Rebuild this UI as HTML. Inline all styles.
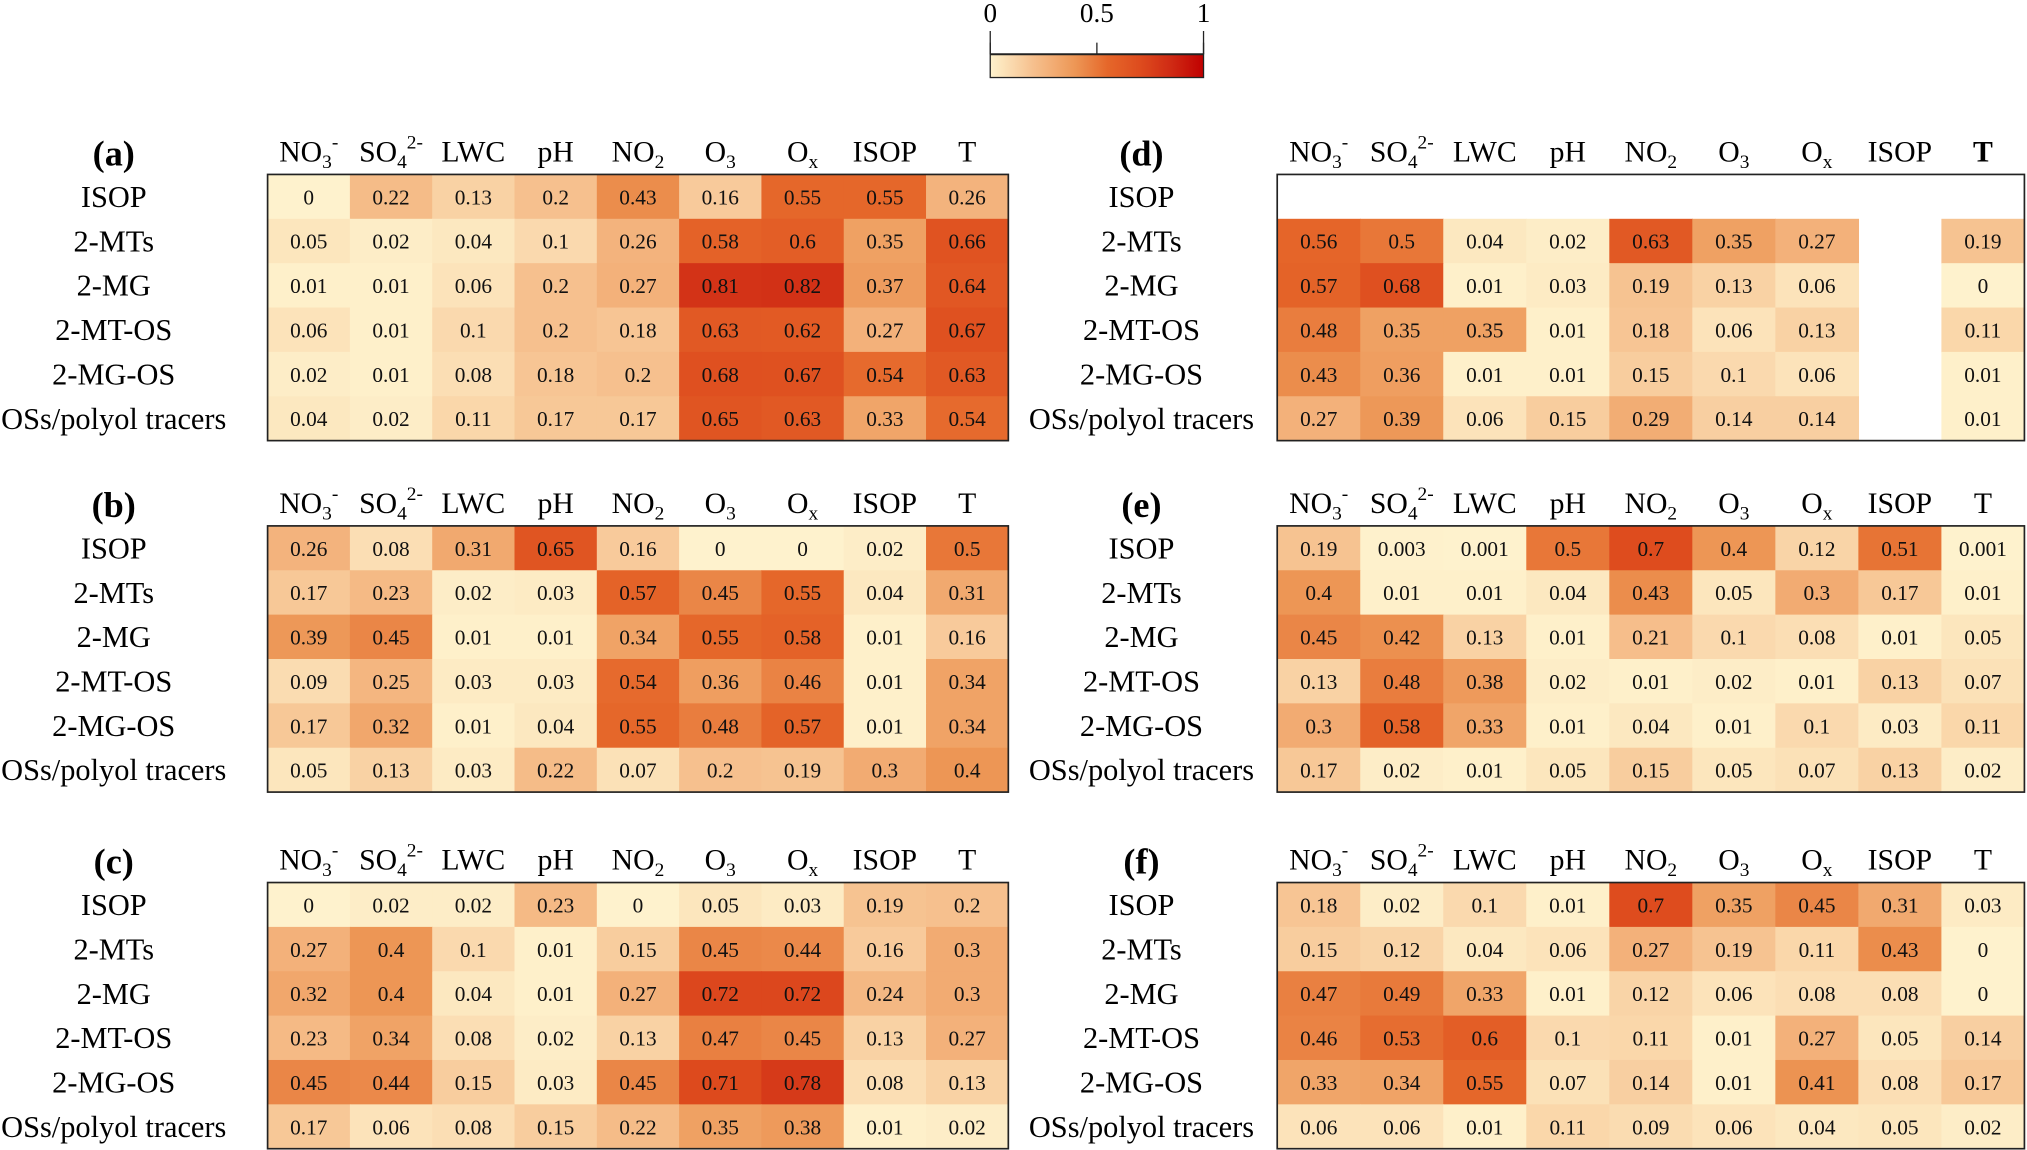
<!DOCTYPE html>
<html><head><meta charset="utf-8">
<style>
html,body{margin:0;padding:0;background:#fff;}
svg{display:block;font-family:"Liberation Serif",serif;}
</style></head>
<body>
<svg id="chart" width="2027" height="1150" viewBox="0 0 1568 890" preserveAspectRatio="none" xmlns="http://www.w3.org/2000/svg"></svg>
<script>
const columns = ["NO3-","SO42-","LWC","pH","NO2","O3","Ox","ISOP","T"];
const rowsLabels = ["ISOP","2-MTs","2-MG","2-MT-OS","2-MG-OS","OSs/polyol tracers"];
const colorTicks = [0, 0.5, 1];
const panelA = [
[0,0.22,0.13,0.2,0.43,0.16,0.55,0.55,0.26],
[0.05,0.02,0.04,0.1,0.26,0.58,0.6,0.35,0.66],
[0.01,0.01,0.06,0.2,0.27,0.81,0.82,0.37,0.64],
[0.06,0.01,0.1,0.2,0.18,0.63,0.62,0.27,0.67],
[0.02,0.01,0.08,0.18,0.2,0.68,0.67,0.54,0.63],
[0.04,0.02,0.11,0.17,0.17,0.65,0.63,0.33,0.54]];
const panelB = [
[0.26,0.08,0.31,0.65,0.16,0,0,0.02,0.5],
[0.17,0.23,0.02,0.03,0.57,0.45,0.55,0.04,0.31],
[0.39,0.45,0.01,0.01,0.34,0.55,0.58,0.01,0.16],
[0.09,0.25,0.03,0.03,0.54,0.36,0.46,0.01,0.34],
[0.17,0.32,0.01,0.04,0.55,0.48,0.57,0.01,0.34],
[0.05,0.13,0.03,0.22,0.07,0.2,0.19,0.3,0.4]];
const panelC = [
[0,0.02,0.02,0.23,0,0.05,0.03,0.19,0.2],
[0.27,0.4,0.1,0.01,0.15,0.45,0.44,0.16,0.3],
[0.32,0.4,0.04,0.01,0.27,0.72,0.72,0.24,0.3],
[0.23,0.34,0.08,0.02,0.13,0.47,0.45,0.13,0.27],
[0.45,0.44,0.15,0.03,0.45,0.71,0.78,0.08,0.13],
[0.17,0.06,0.08,0.15,0.22,0.35,0.38,0.01,0.02]];
const panelD = [
[null,null,null,null,null,null,null,null,null],
[0.56,0.5,0.04,0.02,0.63,0.35,0.27,null,0.19],
[0.57,0.68,0.01,0.03,0.19,0.13,0.06,null,0],
[0.48,0.35,0.35,0.01,0.18,0.06,0.13,null,0.11],
[0.43,0.36,0.01,0.01,0.15,0.1,0.06,null,0.01],
[0.27,0.39,0.06,0.15,0.29,0.14,0.14,null,0.01]];
const panelE = [
[0.19,0.003,0.001,0.5,0.7,0.4,0.12,0.51,0.001],
[0.4,0.01,0.01,0.04,0.43,0.05,0.3,0.17,0.01],
[0.45,0.42,0.13,0.01,0.21,0.1,0.08,0.01,0.05],
[0.13,0.48,0.38,0.02,0.01,0.02,0.01,0.13,0.07],
[0.3,0.58,0.33,0.01,0.04,0.01,0.1,0.03,0.11],
[0.17,0.02,0.01,0.05,0.15,0.05,0.07,0.13,0.02]];
const panelF = [
[0.18,0.02,0.1,0.01,0.7,0.35,0.45,0.31,0.03],
[0.15,0.12,0.04,0.06,0.27,0.19,0.11,0.43,0],
[0.47,0.49,0.33,0.01,0.12,0.06,0.08,0.08,0],
[0.46,0.53,0.6,0.1,0.11,0.01,0.27,0.05,0.14],
[0.33,0.34,0.55,0.07,0.14,0.01,0.41,0.08,0.17],
[0.06,0.06,0.01,0.11,0.09,0.06,0.04,0.05,0.02]];

const NS="http://www.w3.org/2000/svg";
const svg=document.getElementById('chart');
function mk(tag,attrs,parent){const e=document.createElementNS(NS,tag);for(const k in attrs)e.setAttribute(k,attrs[k]);(parent||svg).appendChild(e);return e;}

const stops=[[0,[254,242,205]],[0.2,[246,192,142]],[0.4,[237,150,85]],[0.55,[229,103,42]],[0.7,[222,76,30]],[0.85,[207,42,20]],[1,[192,0,0]]];
function color(v){v=Math.max(0,Math.min(1,v));for(let i=1;i<stops.length;i++){if(v<=stops[i][0]){const a=stops[i-1],b=stops[i];const t=(v-a[0])/(b[0]-a[0]);const c=a[1].map((x,j)=>Math.round(x+(b[1][j]-x)*t));return `rgb(${c[0]},${c[1]},${c[2]})`;}}return 'rgb(192,0,0)';}

const cbX0=766,cbX1=931;
const cbScale=v=>cbX0+(cbX1-cbX0)*v;
const defs=mk('defs',{});
const lg=mk('linearGradient',{id:'cbg',x1:'0',x2:'1',y1:'0',y2:'0'},defs);
for(let i=0;i<=20;i++){mk('stop',{offset:(i/20),'stop-color':color(i/20)},lg);}
const cb=mk('g',{});


mk('rect',{x:cbX0,y:42,width:cbX1-cbX0,height:18,fill:'url(#cbg)',stroke:'#222','stroke-width':1},cb);
mk('line',{x1:cbX0,y1:24,x2:cbX0,y2:42,stroke:'#222','stroke-width':1},cb);
mk('line',{x1:cbX1,y1:24,x2:cbX1,y2:42,stroke:'#222','stroke-width':1},cb);
mk('line',{x1:cbX0,y1:42,x2:cbX1,y2:42,stroke:'#222','stroke-width':1.5},cb);
colorTicks.forEach(t=>{
  mk('line',{x1:cbScale(t),y1:33,x2:cbScale(t),y2:42,stroke:'#222','stroke-width':1},cb);
  const tx=mk('text',{x:cbScale(t),y:17,'text-anchor':'middle','font-size':21},cb);
  tx.textContent=String(t);
  
  
});

function header(g,label,x,y,bold){
  const t=mk('text',{x:x,y:y,'text-anchor':'middle','font-size':23},g);
  if(bold)t.setAttribute('font-weight','bold');
  
  
  const add=(s,opt)=>{const sp=mk('tspan',opt||{},t);sp.textContent=s;};
  if(label==="NO3-"){add("NO");add("3",{'font-size':15,dy:5});add("-",{'font-size':15,dy:-15});}
  else if(label==="SO42-"){add("SO");add("4",{'font-size':15,dy:5});add("2-",{'font-size':15,dy:-15});}
  else if(label==="NO2"){add("NO");add("2",{'font-size':15,dy:5});}
  else if(label==="O3"){add("O");add("3",{'font-size':15,dy:5});}
  else if(label==="Ox"){add("O");add("x",{'font-size':15,dy:5});}
  else add(label);
}

function panel(name,data,x0,x1,y0,labelX,boldT){
  const g=mk('g',{});
  
  
  const cw=(x1-x0)/columns.length, rh=206/rowsLabels.length;
  const xs=i=>x0+i*cw, ys=j=>y0+j*rh;
  const pl=mk('text',{x:labelX,y:y0-7,'text-anchor':'middle','font-size':28,'font-weight':'bold'},g);
  pl.textContent='('+name+')';
  
  
  columns.forEach((c,i)=>header(g,c,xs(i)+cw/2,y0-10,boldT&&c==='T'));
  rowsLabels.forEach((r,j)=>{
    const t=mk('text',{x:labelX,y:ys(j)+rh/2+8,'text-anchor':'middle','font-size':23.5},g);
    t.textContent=r;
    
    
  });
  data.forEach((row,j)=>row.forEach((v,i)=>{
    if(v===null)return;
    const r=mk('rect',{x:xs(i),y:ys(j),width:cw+0.5,height:rh+0.5,fill:color(v)},g);
    
    
    const t=mk('text',{x:xs(i)+cw/2,y:ys(j)+rh/2+6,'text-anchor':'middle','font-size':16.5,fill:'#111'},g);
    t.textContent=String(v);
    
    
  }));
  mk('rect',{x:x0,y:y0,width:x1-x0,height:206,fill:'none',stroke:'#222','stroke-width':1.3},g);
}
panel('a',panelA,207,780,135,88,false);
panel('b',panelB,207,780,407,88,false);
panel('c',panelC,207,780,683,88,false);
panel('d',panelD,988,1566,135,883,true);
panel('e',panelE,988,1566,407,883,false);
panel('f',panelF,988,1566,683,883,false);
</script>
</body></html>
